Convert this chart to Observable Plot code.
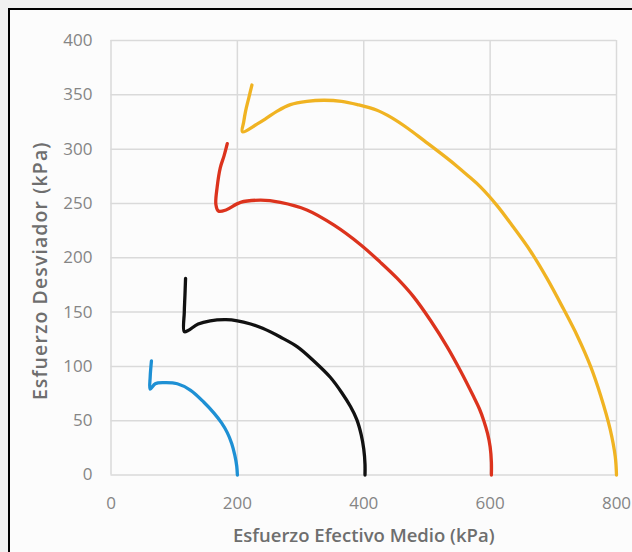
<!DOCTYPE html>
<html>
<head>
<meta charset="utf-8">
<script src="https://cdn.jsdelivr.net/npm/d3@7"></script>
<script src="https://cdn.jsdelivr.net/npm/@observablehq/plot@0.6"></script>
<style>
  html, body { margin: 0; padding: 0; background: #f1f1f1; }
  #wrap { position: relative; width: 632px; height: 552px; overflow: hidden; background: #f1f1f1; }
  #frame { position: absolute; left: 8px; top: 8px; width: 660px; height: 580px; border: 2px solid #000; background: #fcfcfc; }
  #chart { position: absolute; left: 0; top: 0; }
</style>
</head>
<body>
<div id="wrap"><div id="frame"></div><div id="chart"></div></div>
<script>
const xTicks = [0, 200, 400, 600, 800];
const yTicks = [0, 50, 100, 150, 200, 250, 300, 350, 400];
const xTitle = "Esfuerzo Efectivo Medio (kPa)";
const yTitle = "Esfuerzo Desviador (kPa)";

const seriesNames = ["p0 = 200 kPa", "p0 = 400 kPa", "p0 = 600 kPa", "p0 = 800 kPa"];
const seriesColors = ["#1e90d4", "#111111", "#dc331d", "#f0b322"];

const s1P = [200, 199, 196, 191, 184, 175, 163, 147, 126, 105, 84, 70, 62, 62, 64];
const s1Q = [0, 8, 18, 29, 39, 48, 57, 67, 78, 84, 85, 84, 79, 90, 105];

const s2P = [402, 402, 400, 396, 389, 379, 365, 347, 321, 295, 268, 240, 221, 200, 182, 157, 138, 122, 116, 116, 117, 118];
const s2Q = [0, 10, 24, 37, 51, 63, 76, 90, 105, 118, 127, 135, 139, 142, 143, 142, 139, 133, 132, 150, 165, 181];

const s3P = [602, 602, 600, 596, 590, 583, 574, 553, 532, 506, 479, 453, 426, 395, 353, 310, 268, 237, 205, 182, 170, 166, 168, 173, 179, 184];
const s3Q = [0, 12, 26, 38, 50, 61, 72, 96, 118, 142, 164, 181, 196, 212, 230, 244, 251, 253, 251, 244, 243, 249, 265, 283, 294, 305];

const s4P = [800, 798, 790, 775, 759, 738, 716, 690, 664, 637, 611, 585, 566, 546, 520, 495, 470, 444, 420, 390, 365, 337, 310, 284, 263, 245, 231, 208, 210, 213, 218, 223];
const s4Q = [0, 17, 42, 73, 100, 128, 153, 181, 206, 228, 248, 265, 275, 285, 297, 308, 319, 329, 336, 341, 344, 345, 344, 341, 335, 328, 323, 316, 325, 335, 347, 359];

const allP = [s1P, s2P, s3P, s4P];
const allQ = [s1Q, s2Q, s3Q, s4Q];
const rows = [];
allP.forEach((ps, s) => ps.forEach((p, i) => rows.push({series: seriesNames[s], p, q: allQ[s][i]})));

const chart = Plot.plot({
  width: 632,
  height: 552,
  marginLeft: 110.5,
  marginRight: 16,
  marginTop: 40,
  marginBottom: 77.5,
  style: {background: "transparent", fontFamily: "'Open Sans', sans-serif", fontSize: "17px", color: "#858585"},
  x: {domain: [0, 800], ticks: xTicks, tickSize: 0, tickPadding: 22, label: null},
  y: {domain: [0, 400], ticks: yTicks, tickSize: 0, tickPadding: 18.5, label: null},
  color: {domain: seriesNames, range: seriesColors},
  marks: [
    Plot.ruleX(xTicks, {stroke: "#dadada", strokeWidth: 1.5}),
    Plot.ruleY(yTicks, {stroke: "#dadada", strokeWidth: 1.5}),
    Plot.line(rows, {x: "p", y: "q", z: "series", stroke: "series", strokeWidth: 3.3, curve: "catmull-rom", strokeLinecap: "round", strokeLinejoin: "round"}),
    Plot.text([xTitle], {frameAnchor: "bottom", dy: 67, fill: "#6e6e6e", fontSize: 18.5, fontWeight: 600, fontFamily: "'Open Sans', sans-serif"}),
    Plot.text([yTitle], {frameAnchor: "left", textAnchor: "middle", dx: -70.5, dy: 13, rotate: -90, fill: "#6e6e6e", fontSize: 19.5, fontWeight: 600, fontFamily: "'Open Sans', sans-serif"})
  ]
});
d3.select(chart).selectAll("text").filter(function() { return this.textContent === yTitle; }).style("letter-spacing", "1.1px");
document.getElementById("chart").appendChild(chart);
</script>
</body>
</html>
